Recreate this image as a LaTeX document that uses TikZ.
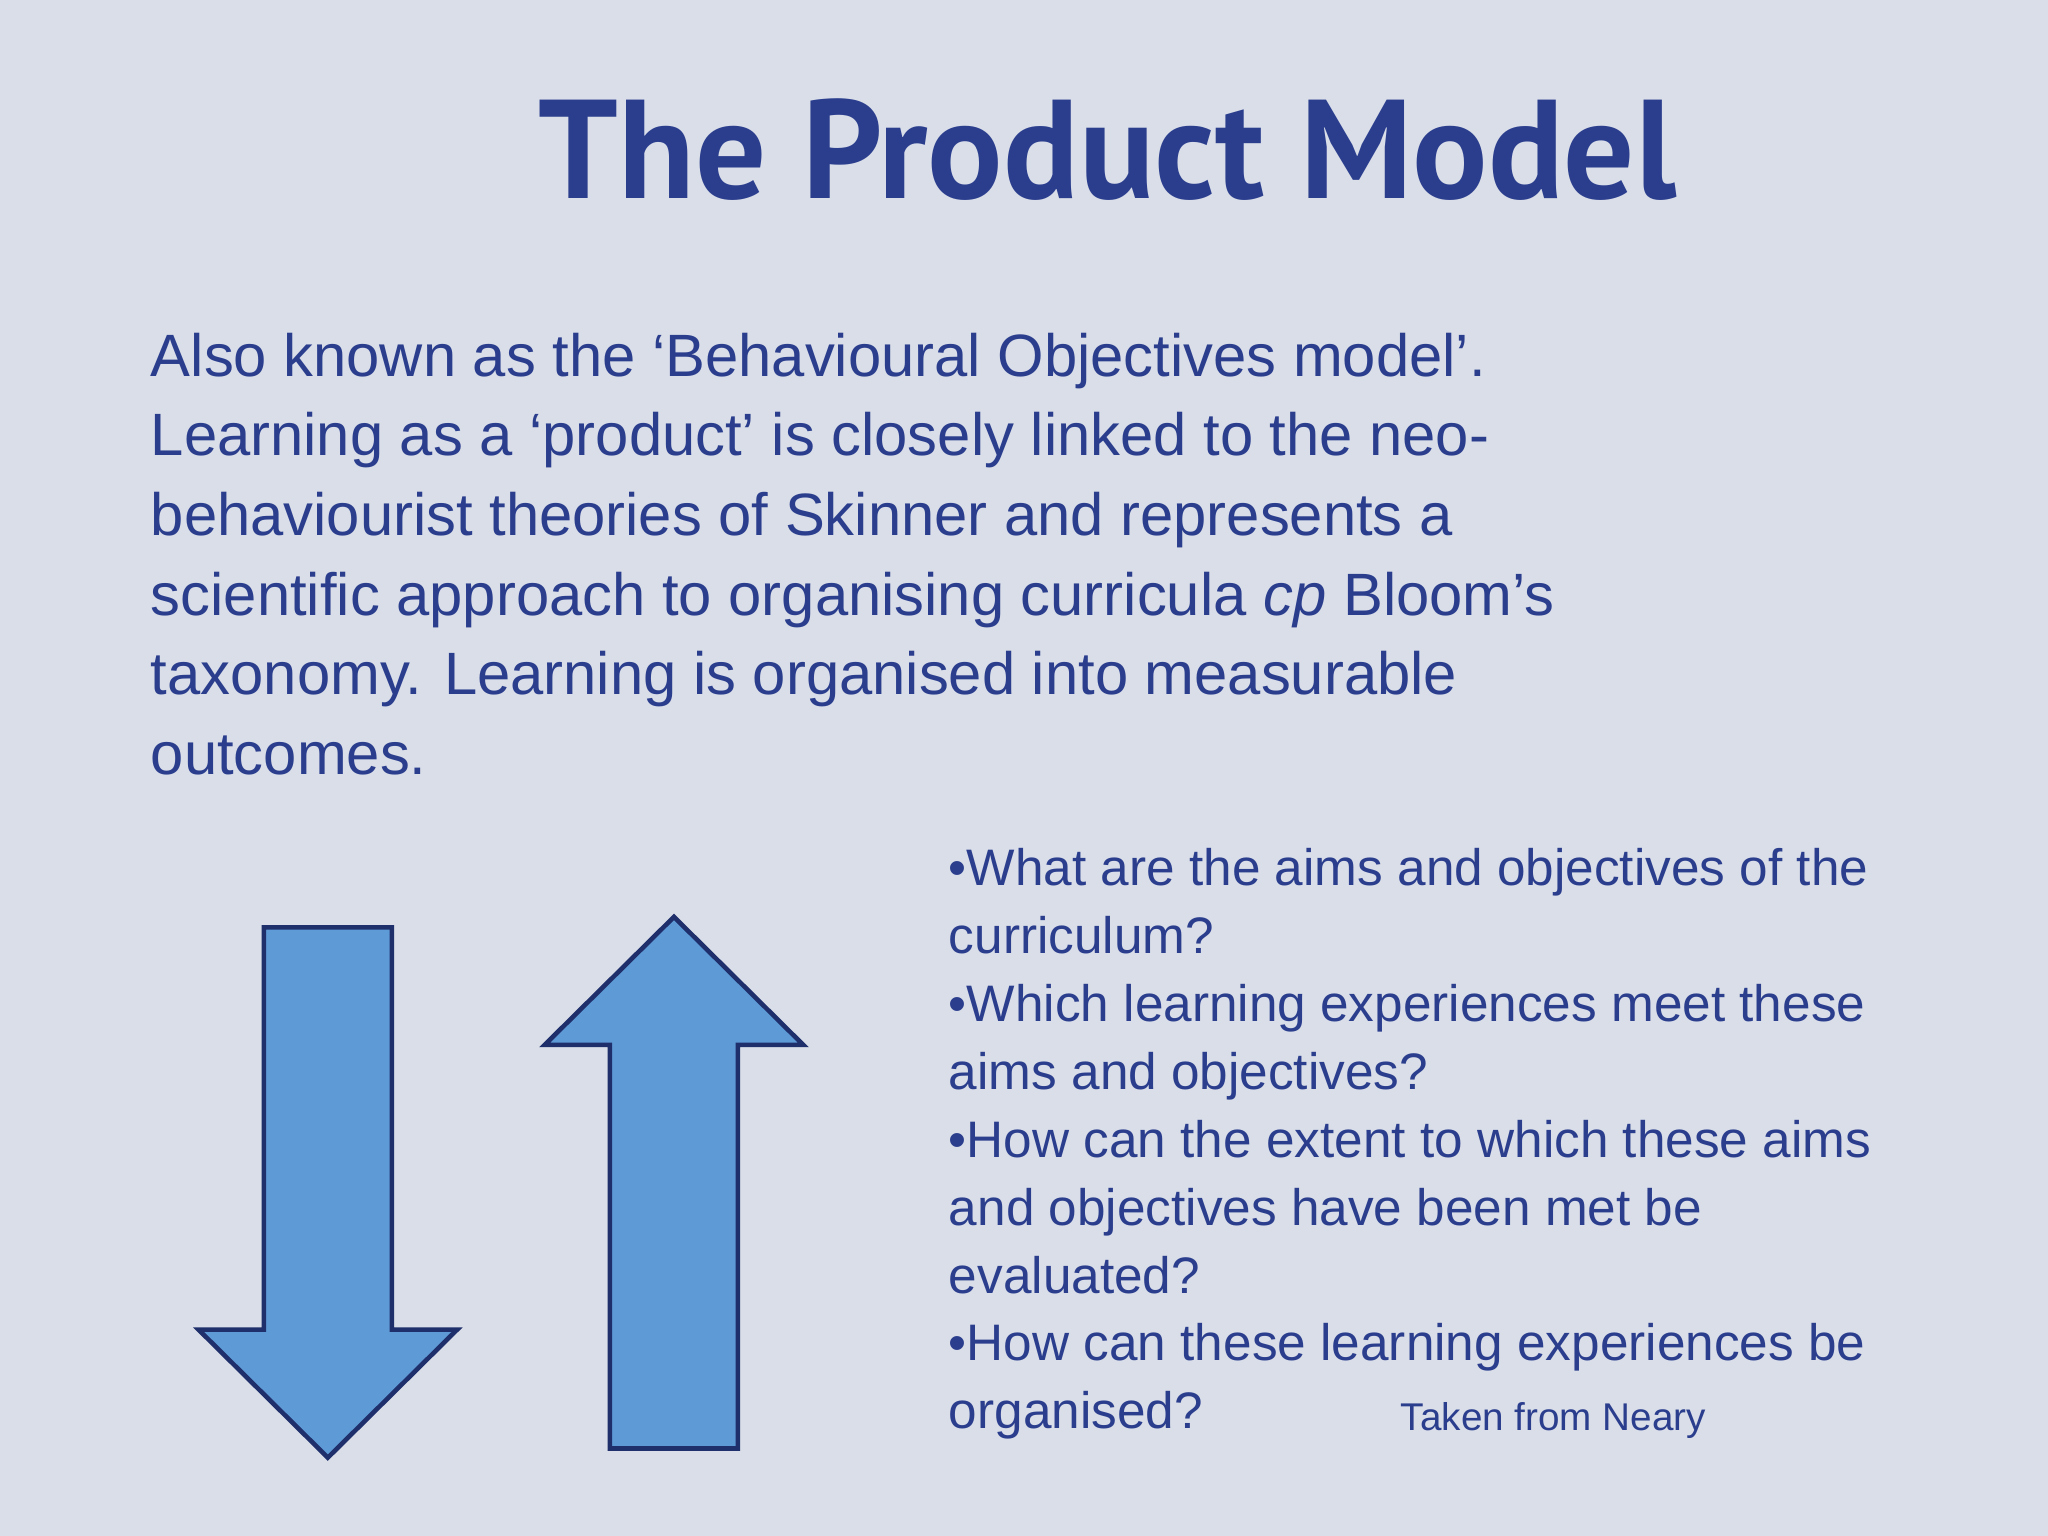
\documentclass[tikz,border=0pt]{standalone}
\usepackage{fontspec}
\setmainfont{Liberation Sans}
\newfontfamily\titlefont{PT Sans}
\begin{document}
\begin{tikzpicture}[x=0.01306cm,y=-0.01306cm,
  txt/.style={anchor=base west,inner sep=0,text=tcol,font=\fontsize{17}{20}\selectfont},
  ltxt/.style={anchor=base west,inner sep=0,text=tcol,font=\fontsize{14.6}{18}\selectfont},
  arr/.style={fill=acol,draw=navy,line width=1.3pt,line join=miter}]
\definecolor{bg}{HTML}{D9DEE8}
\definecolor{tcol}{HTML}{2B3E8E}
\definecolor{acol}{HTML}{5E9BD6}
\definecolor{navy}{HTML}{1F2F6B}
\fill[bg] (0,0) rectangle (1568,1176);
\useasboundingbox (0,0) rectangle (1568,1176);
\node[anchor=base,inner sep=0,text=tcol,font=\titlefont\bfseries\fontsize{40}{44}\selectfont] (title) at (848,152) {The Product Model};
\node[txt] (p1) at (115,288) {Also known as the ‘Behavioural Objectives model’.};
\node[txt] (p2) at (115,349) {Learning as a ‘product’ is closely linked to the neo-};
\node[txt] (p3) at (115,410) {behaviourist theories of Skinner and represents a};
\node[txt] (p4) at (115,471) {scientific approach to organising curricula \textit{cp} Bloom’s};
\node[txt] (p5) at (115,532) {taxonomy. Learning is organised into measurable};
\node[txt] (p6) at (115,593) {outcomes.};
\node[ltxt] (q1) at (726,678) {•What are the aims and objectives of the};
\node[ltxt] (q2) at (726,730) {curriculum?};
\node[ltxt] (q3) at (726,782) {•Which learning experiences meet these};
\node[ltxt] (q4) at (726,834) {aims and objectives?};
\node[ltxt] (q5) at (726,886) {•How can the extent to which these aims};
\node[ltxt] (q6) at (726,938) {and objectives have been met be};
\node[ltxt] (q7) at (726,990) {evaluated?};
\node[ltxt] (q8) at (726,1042) {•How can these learning experiences be};
\node[ltxt] (q9) at (726,1094) {organised?};
\node[anchor=base west,inner sep=0,text=tcol,font=\fontsize{11}{13}\selectfont] (src) at (1072,1095) {Taken from Neary};
\draw[arr] (202,710) -- (300,710) -- (300,1018) -- (350,1018) -- (251,1116) -- (152,1018) -- (202,1018) -- cycle;
\draw[arr] (516,702) -- (615,800) -- (565,800) -- (565,1109) -- (467,1109) -- (467,800) -- (417,800) -- cycle;
\end{tikzpicture}
\end{document}
